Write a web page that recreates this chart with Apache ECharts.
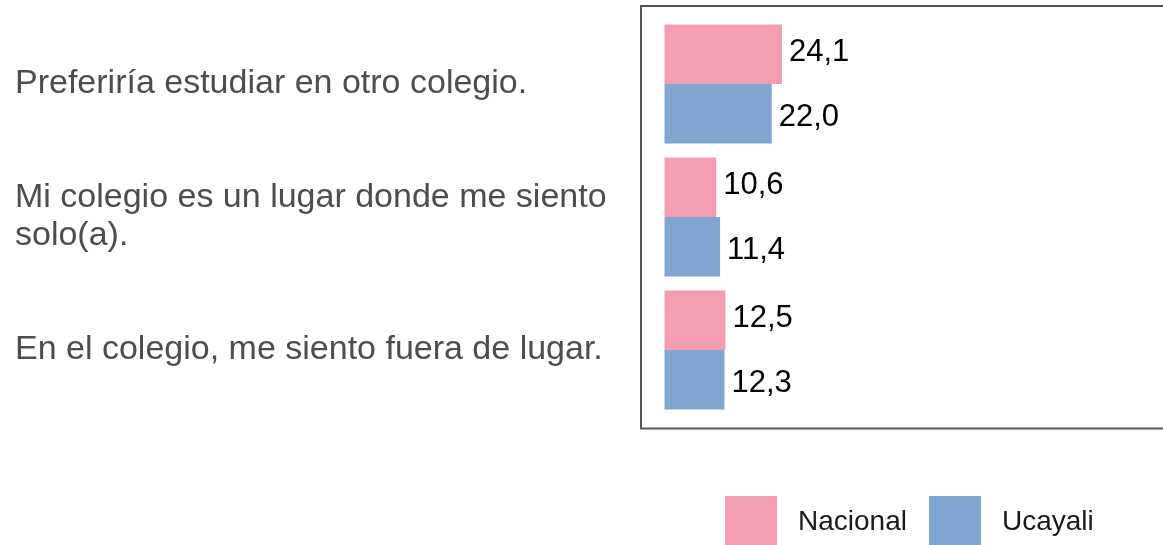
<!DOCTYPE html>
<html>
<head>
<meta charset="utf-8">
<script src="https://cdn.jsdelivr.net/npm/echarts@6/dist/echarts.min.js"></script>
<style>
  html, body { margin: 0; padding: 0; background: #ffffff; }
  #chart { width: 1163px; height: 545px; }
</style>
</head>
<body>
<div id="chart"></div>
<script>
// Statements (top to bottom)
const categories = [
  'Preferiría estudiar en otro colegio.',
  'Mi colegio es un lugar donde me siento\nsolo(a).',
  'En el colegio, me siento fuera de lugar.'
];
const seriesNames = ['Nacional', 'Ucayali'];
// Percentages
const nacional = [24.1, 10.6, 12.5];
const ucayali = [22.0, 11.4, 12.3];

const colors = ['#F39DB2', '#80A6D0'];
const fmt = p => p.value.toFixed(1).replace('.', ',');
const FONT = '"Liberation Sans", Arial, Helvetica, sans-serif';

const chart = echarts.init(document.getElementById('chart'), null, { renderer: 'canvas' });

chart.setOption({
  animation: false,
  backgroundColor: '#ffffff',
  textStyle: { fontFamily: FONT },
  grid: { left: 664.5, right: 11, top: 17.5, bottom: 128.5, containLabel: false },
  xAxis: {
    type: 'value', min: 0, max: 100, show: false
  },
  yAxis: {
    type: 'category',
    data: categories,
    inverse: true,
    axisLine: { show: false },
    axisTick: { show: false },
    splitLine: { show: false },
    axisLabel: {
      align: 'left',
      margin: 649.5,
      fontSize: 34,
      lineHeight: 38,
      color: '#4d4d4d',
      fontFamily: FONT
    }
  },
  legend: {
    data: seriesNames,
    left: 720,
    top: 491,
    icon: 'rect',
    itemWidth: 52,
    itemHeight: 52,
    itemGap: 22,
    textStyle: {
      fontSize: 28,
      color: '#1a1a1a',
      padding: [6, 0, 0, 16],
      fontFamily: FONT
    }
  },
  graphic: [{
    type: 'rect',
    silent: true,
    z: 100,
    shape: { x: 641, y: 6, width: 560, height: 422.5 },
    style: { fill: 'none', stroke: '#555555', lineWidth: 2 }
  }],
  series: [
    {
      name: seriesNames[0],
      type: 'bar',
      data: nacional,
      barWidth: 59.5,
      barGap: '0%',
      itemStyle: { color: colors[0] },
      label: {
        show: true, position: 'right', distance: 7, offset: [0, -2],
        formatter: fmt, fontSize: 31, color: '#000000', fontFamily: FONT
      }
    },
    {
      name: seriesNames[1],
      type: 'bar',
      data: ucayali,
      barWidth: 59.5,
      barGap: '0%',
      itemStyle: { color: colors[1] },
      label: {
        show: true, position: 'right', distance: 7, offset: [0, 4],
        formatter: fmt, fontSize: 31, color: '#000000', fontFamily: FONT
      }
    }
  ]
});
</script>
</body>
</html>
